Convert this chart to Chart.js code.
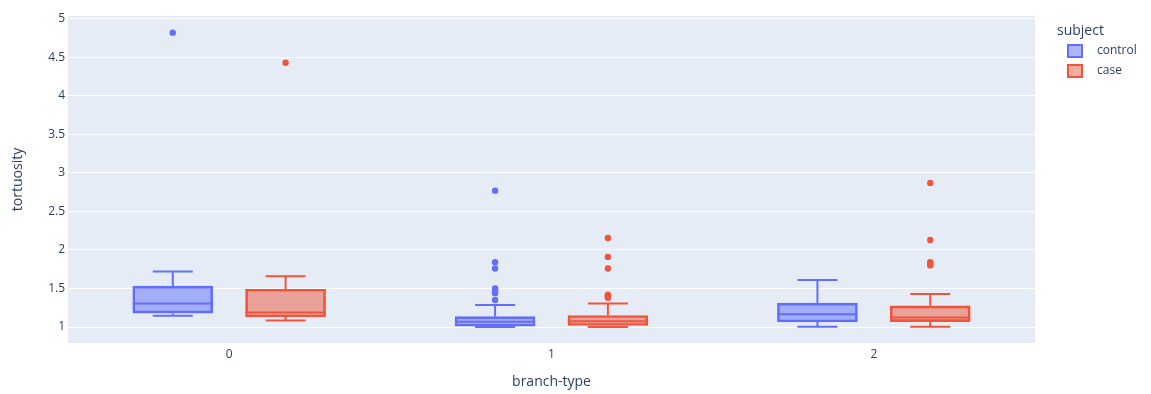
<!DOCTYPE html>
<html>
<head>
<meta charset="utf-8">
<title>tortuosity by branch-type</title>
<script src="https://cdn.jsdelivr.net/npm/chart.js@4.4.1/dist/chart.umd.min.js"></script>
<style>
    html, body { margin: 0; padding: 0; background: #ffffff; }
    #wrap { position: relative; width: 1151px; height: 394px; }
</style>
</head>
<body>
<div id="wrap"><canvas id="boxChart"></canvas></div>
<script>
// ==========================================
// tortuosity per branch-type, control vs case
// ==========================================

const branchTypes = ["0", "1", "2"];

// control: whisker ends, quartiles, median, outliers
const controlLower    = [1.145, 1.00, 1.005];
const controlQ1       = [1.18, 1.01, 1.065];
const controlMedian   = [1.305, 1.07, 1.165];
const controlQ3       = [1.53, 1.135, 1.31];
const controlUpper    = [1.72, 1.285, 1.61];
const controlOutliers = [[4.82], [2.77, 1.84, 1.76, 1.50, 1.48, 1.46, 1.44, 1.35], []];

// case
const caseLower    = [1.085, 1.00, 1.005];
const caseQ1       = [1.13, 1.02, 1.07];
const caseMedian   = [1.19, 1.075, 1.125];
const caseQ3       = [1.49, 1.15, 1.275];
const caseUpper    = [1.66, 1.305, 1.43];
const caseOutliers = [[4.43], [2.155, 1.91, 1.76, 1.42, 1.40, 1.39, 1.38], [2.87, 2.13, 1.84, 1.82, 1.80]];

const yTicks      = [1, 1.5, 2, 2.5, 3, 3.5, 4, 4.5, 5];
const yTickLabels = ["1", "1.5", "2", "2.5", "3", "3.5", "4", "4.5", "5"];

// =====================================
// look
// =====================================

const CONTROL = "#636efa";
const CASE = "#EF553B";
const TEXT = "#2a3f5f";
const FONT = '"Open Sans", "Noto Sans", sans-serif';

const groupShift = 0.175;   // box centre offset from the category, in category units
const BOX_WIDTH = 80;

Chart.defaults.font.family = FONT;
Chart.defaults.font.size = 12;
Chart.defaults.color = TEXT;

function toPoints(groups, shift){

    return groups.flatMap((vals, i) => vals.map(v => ({ x: i + shift, y: v })));

}

function toBoxes(q1, q3, shift){

    return q1.map((q, i) => ({ x: i + shift, y: [q, q3[i]] }));

}

// plot area background
const plotBackground = {

    id: "plotBackground",

    beforeDraw(chart){

        const { ctx, chartArea: a } = chart;

        ctx.save();
        ctx.fillStyle = "#E5ECF6";
        ctx.fillRect(a.left, a.top, a.right - a.left, a.bottom - a.top);
        ctx.restore();

    }

};

// median line + whiskers on top of each floating bar
const boxWhiskers = {

    id: "boxWhiskers",

    afterDatasetsDraw(chart){

        const ctx = chart.ctx;
        const y = chart.scales.y;

        chart.data.datasets.forEach((ds, di) => {

            if(!ds.stats) return;

            chart.getDatasetMeta(di).data.forEach((bar, i) => {

                const x = bar.x;
                const half = bar.width / 2;
                const cap = bar.width / 4;

                const yLow = y.getPixelForValue(ds.stats.lower[i]);
                const yQ1 = y.getPixelForValue(ds.stats.q1[i]);
                const yMed = y.getPixelForValue(ds.stats.median[i]);
                const yQ3 = y.getPixelForValue(ds.stats.q3[i]);
                const yUp = y.getPixelForValue(ds.stats.upper[i]);

                ctx.save();
                ctx.strokeStyle = ds.borderColor;
                ctx.lineWidth = 2;
                ctx.beginPath();

                ctx.moveTo(x - half, yMed);
                ctx.lineTo(x + half, yMed);

                ctx.moveTo(x, yQ3);
                ctx.lineTo(x, yUp);
                ctx.moveTo(x - cap, yUp);
                ctx.lineTo(x + cap, yUp);

                ctx.moveTo(x, yQ1);
                ctx.lineTo(x, yLow);
                ctx.moveTo(x - cap, yLow);
                ctx.lineTo(x + cap, yLow);

                ctx.stroke();
                ctx.restore();

            });

        });

    }

};

// plotly-like legend on the right
const subjectLegend = {

    id: "subjectLegend",

    afterDraw(chart){

        const ctx = chart.ctx;
        const x0 = chart.chartArea.right + 22;

        ctx.save();
        ctx.textAlign = "left";
        ctx.textBaseline = "middle";
        ctx.fillStyle = TEXT;
        ctx.font = "14px " + FONT;
        ctx.fillText("subject", x0, 31);

        ctx.font = "12px " + FONT;

        chart.data.datasets.filter(d => d.stats).forEach((d, k) => {

            const cy = 51 + k * 20;

            ctx.fillStyle = d.backgroundColor;
            ctx.fillRect(x0 + 11, cy - 6, 14, 12);
            ctx.strokeStyle = d.borderColor;
            ctx.lineWidth = 2;
            ctx.strokeRect(x0 + 11, cy - 6, 14, 12);

            ctx.fillStyle = TEXT;
            ctx.fillText(d.label, x0 + 40, cy);

        });

        ctx.restore();

    }

};

new Chart(

    document.getElementById("boxChart"),

    {

        type: "bar",

        data: {

            datasets: [

                {
                    label: "control",
                    data: toBoxes(controlQ1, controlQ3, -groupShift),
                    stats: { lower: controlLower, q1: controlQ1, median: controlMedian, q3: controlQ3, upper: controlUpper },
                    backgroundColor: "rgba(99,110,250,0.5)",
                    borderColor: CONTROL,
                    borderWidth: 2,
                    borderSkipped: false,
                    grouped: false,
                    categoryPercentage: 1,
                    barPercentage: 1,
                    maxBarThickness: BOX_WIDTH
                },

                {
                    label: "case",
                    data: toBoxes(caseQ1, caseQ3, groupShift),
                    stats: { lower: caseLower, q1: caseQ1, median: caseMedian, q3: caseQ3, upper: caseUpper },
                    backgroundColor: "rgba(239,85,59,0.5)",
                    borderColor: CASE,
                    borderWidth: 2,
                    borderSkipped: false,
                    grouped: false,
                    categoryPercentage: 1,
                    barPercentage: 1,
                    maxBarThickness: BOX_WIDTH
                },

                {
                    type: "scatter",
                    label: "control outliers",
                    data: toPoints(controlOutliers, -groupShift),
                    backgroundColor: CONTROL,
                    borderWidth: 0,
                    pointRadius: 3.2,
                    pointHoverRadius: 3.2
                },

                {
                    type: "scatter",
                    label: "case outliers",
                    data: toPoints(caseOutliers, groupShift),
                    backgroundColor: CASE,
                    borderWidth: 0,
                    pointRadius: 3.2,
                    pointHoverRadius: 3.2
                }

            ]

        },

        options: {

            responsive: true,
            maintainAspectRatio: false,
            animation: false,
            events: [],

            layout: {
                padding: { left: 0, top: 16, right: 116, bottom: 0 }
            },

            plugins: {
                legend: { display: false },
                tooltip: { enabled: false }
            },

            scales: {

                x: {
                    type: "linear",
                    min: -0.5,
                    max: 2.5,
                    offset: false,
                    grid: { display: false, drawTicks: false },
                    border: { display: false },
                    afterBuildTicks(scale){
                        scale.ticks = branchTypes.map((b, i) => ({ value: i }));
                    },
                    ticks: {
                        padding: 4,
                        color: TEXT,
                        font: { size: 12 },
                        callback: (v, i) => branchTypes[i]
                    },
                    title: {
                        display: true,
                        text: "branch-type",
                        color: TEXT,
                        font: { size: 14 },
                        padding: { top: 0, bottom: 4 }
                    },
                    afterFit(scale){ scale.height = 51; }
                },

                y: {
                    type: "linear",
                    min: 0.793,
                    max: 5.036,
                    grid: { color: "#ffffff", lineWidth: 1, drawTicks: false },
                    border: { display: false },
                    afterBuildTicks(scale){
                        scale.ticks = yTicks.map(v => ({ value: v }));
                    },
                    ticks: {
                        padding: 3,
                        color: TEXT,
                        font: { size: 12 },
                        callback: (v, i) => yTickLabels[i]
                    },
                    title: {
                        display: true,
                        text: "tortuosity",
                        color: TEXT,
                        font: { size: 14 },
                        padding: { top: 10, bottom: 0 }
                    },
                    afterFit(scale){ scale.width = 68; }
                }

            }

        },

        plugins: [plotBackground, boxWhiskers, subjectLegend]

    }

);
</script>
</body>
</html>
